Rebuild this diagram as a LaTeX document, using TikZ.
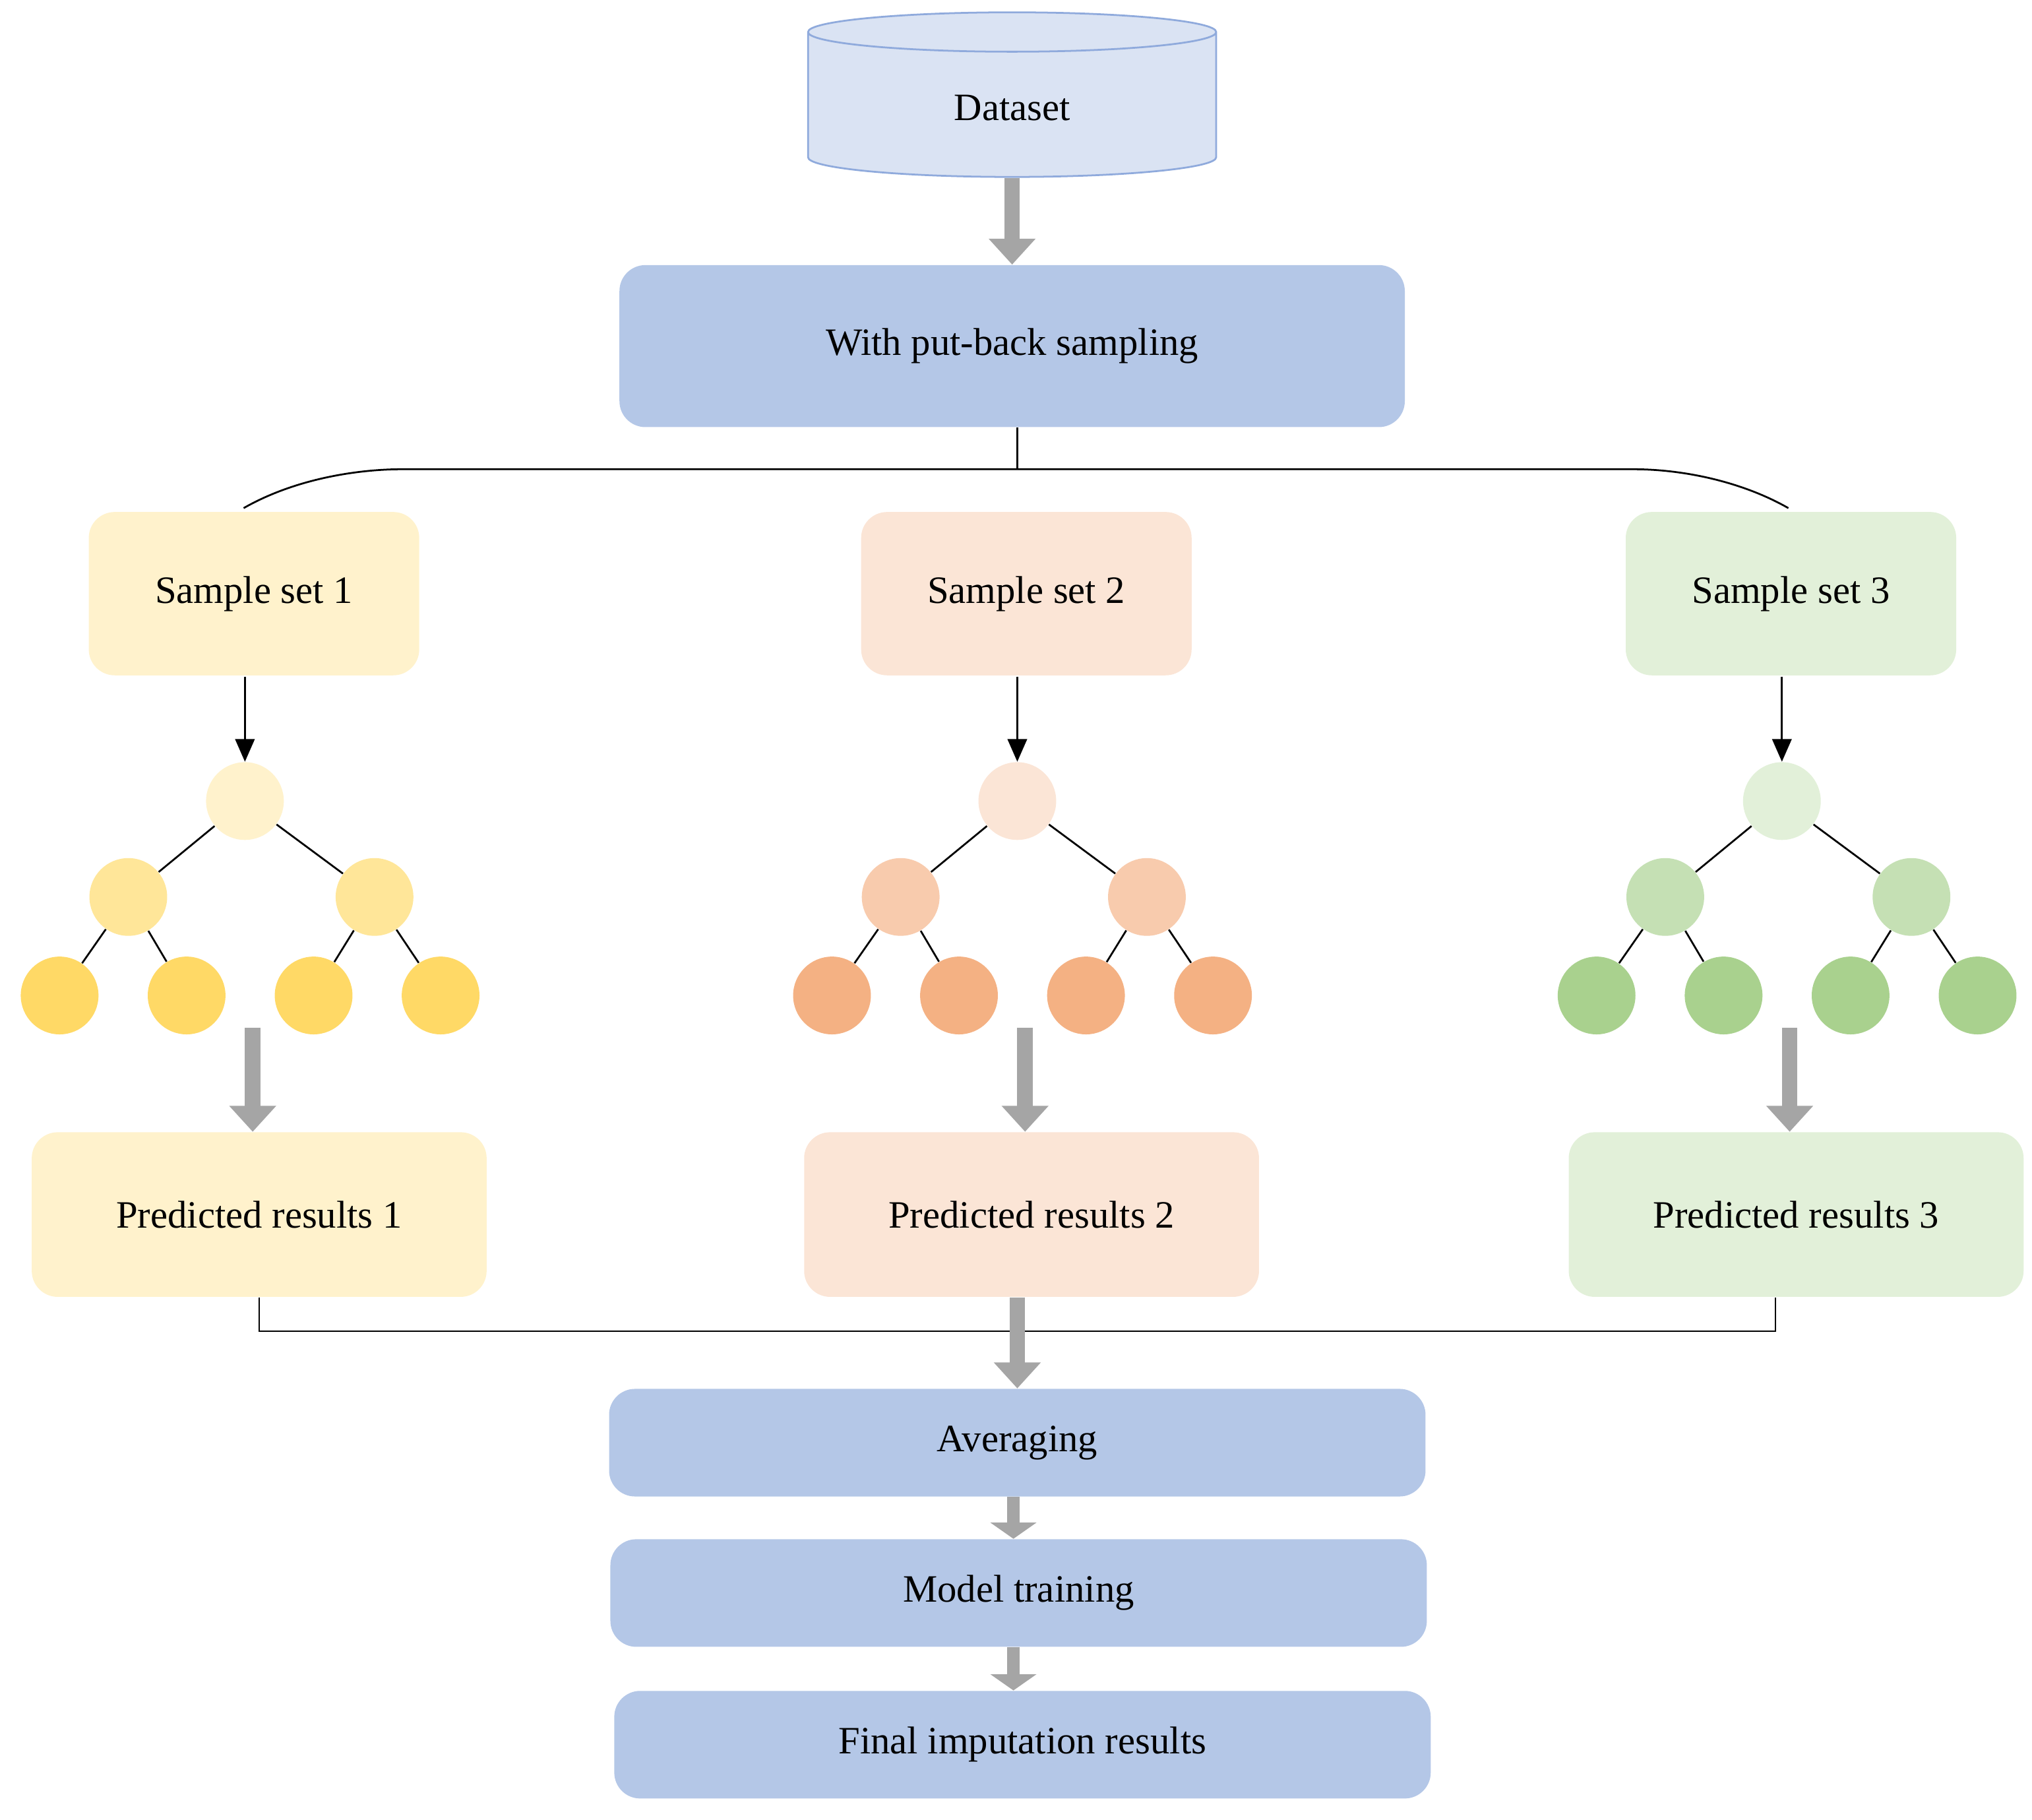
\documentclass[tikz,border=0pt]{standalone}
\usepackage{fontspec}
\setmainfont{Liberation Serif}
\usetikzlibrary{arrows.meta,shapes.geometric}
\definecolor{dsfill}{HTML}{DAE3F3}\definecolor{dsline}{HTML}{8FAADC}
\definecolor{bluebox}{HTML}{B4C7E7}\definecolor{grayarr}{HTML}{A5A5A5}
\definecolor{y1}{HTML}{FFF2CC}\definecolor{y2}{HTML}{FFE699}\definecolor{y3}{HTML}{FFD966}
\definecolor{o1}{HTML}{FBE5D6}\definecolor{o2}{HTML}{F8CBAD}\definecolor{o3}{HTML}{F4B183}
\definecolor{g1}{HTML}{E2F0D9}\definecolor{g2}{HTML}{C5E0B4}\definecolor{g3}{HTML}{A9D18E}
\begin{document}
\begin{tikzpicture}[x=0.02cm,y=-0.02cm,
  txt/.style={font=\fontsize{17}{20}\selectfont},
  box/.style={txt,rounded corners=0.4cm,draw=none,minimum width=#1*0.02cm,inner sep=0pt},
  fat/.style={draw=grayarr,line width=0.24cm,-{Triangle[width=0.7cm,length=0.4cm]}},
  thin/.style={draw=grayarr,line width=0.16cm},
  small/.style={draw=grayarr,line width=0.2cm,-{Triangle[width=0.7cm,length=0.25cm]}},
  arr/.style={thick,-{Triangle[width=0.3cm,length=0.35cm]}},
  c/.style={circle,minimum size=1.2cm,inner sep=0pt,fill=#1}]
\useasboundingbox (0,0) rectangle (1568,1404);
% dataset cylinder
\node[cylinder,shape border rotate=90,aspect=0.3,draw=dsline,thick,fill=dsfill,
  minimum width=315*0.02cm,minimum height=127*0.02cm,txt] (ds) at (781,83) {Dataset};
\node[box=606,fill=bluebox,minimum height=125*0.02cm] (wp) at (781,267) {With put-back sampling};
\draw[fat] (ds.bottom) -- (wp.north);
\coordinate (j) at (785,362);
\draw[thick] (wp.south -| j) -- (j);
\foreach \i/\x/\ca/\cb/\cc in {1/189/y1/y2/y3,2/785/o1/o2/o3,3/1375/g1/g2/g3}{
  \node[box=255,fill=\ca,minimum height=126*0.02cm] (s\i) at (\x+7,458) {Sample set \i};
  \node[c=\ca] (r\i) at (\x,618) {};
  \node[c=\cb] (a\i) at (\x-90,692) {};
  \node[c=\cb] (b\i) at (\x+100,692) {};
  \node[c=\cc] (l1\i) at (\x-143,768) {};
  \node[c=\cc] (l2\i) at (\x-45,768) {};
  \node[c=\cc] (l3\i) at (\x+53,768) {};
  \node[c=\cc] (l4\i) at (\x+151,768) {};
  \draw[thick] (r\i) -- (a\i); \draw[thick] (r\i) -- (b\i);
  \draw[thick] (a\i) -- (l1\i); \draw[thick] (a\i) -- (l2\i);
  \draw[thick] (b\i) -- (l3\i); \draw[thick] (b\i) -- (l4\i);
  \coordinate (st\i) at (\x,522);
  \draw[arr] (st\i) -- (r\i.north);
  \node[box=351,fill=\ca,minimum height=127*0.02cm] (p\i) at (\x+11,937) {Predicted results \i};
  \coordinate (fa\i) at (\x+6,793);
  \draw[fat] (fa\i) -- (p\i.north -| fa\i);
}
\coordinate (c1) at (188,392); \coordinate (c3) at (1380,392);
\draw[thick] (c1) .. controls (230,368) and (280,362) .. (310,362) -- (1260,362) .. controls (1300,362) and (1345,372) .. (c3);
% gather
\node[box=630,fill=bluebox,minimum height=83*0.02cm] (av) at (785,1113) {Averaging};
\node[box=630,fill=bluebox,minimum height=83*0.02cm] (mt) at (786,1229) {Model training};
\node[box=630,fill=bluebox,minimum height=83*0.02cm] (fi) at (789,1346) {Final imputation results};
\coordinate (h) at (785,1027);
\draw[thick,line join=miter] (p1.south -| 200,0) |- (h) -| (p3.south -| 1370,0);
\draw[fat] (p2.south -| h) -- (av.north -| h);
\draw[small] (av.south -| 782,0) -- (mt.north -| 782,0);
\draw[small] (mt.south -| 782,0) -- (fi.north -| 782,0);
\end{tikzpicture}
\end{document}
